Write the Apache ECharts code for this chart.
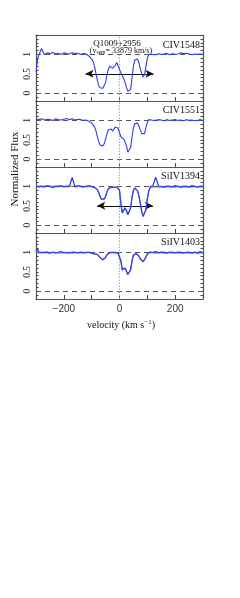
<!DOCTYPE html>
<html><head><meta charset="utf-8">
<script src="https://cdn.jsdelivr.net/npm/echarts@6/dist/echarts.min.js"></script>
<style>html,body{margin:0;padding:0;background:#fff;}#c{width:240px;height:598px;}</style>
</head><body><div id="c"></div>
<script>
// velocity grid (km/s)
const V = [-300,-295,-290,-280,-270,-260,-250,-240,-230,-220,-210,-200,-190,-180,-170,-160,-150,-140,-130,-120,
-115,-110,-105,-100,-95,-90,-85,-80,-75,-70,-65,-60,-55,-50,-45,-40,-35,-30,-25,-20,-15,-10,-5,0,
5,10,15,20,25,30,35,40,45,50,55,60,65,70,75,80,85,90,95,100,105,110,115,120,
130,140,150,160,170,180,190,200,210,220,230,240,250,260,270,280,290,300];

const PANELS = ['CIV1548','CIV1551','SiIV1394','SiIV1403'];

const CIV1548_B = [0.55,0.85,0.98,1.15,1.00,1.04,1.02,1.05,1.01,1.03,1.00,1.04,1.02,1.01,1.04,1.02,1.03,1.00,1.02,1.01,
0.99,0.96,0.93,0.88,0.82,0.70,0.52,0.35,0.20,0.14,0.12,0.13,0.16,0.28,0.48,0.62,0.70,0.73,0.64,0.62,0.72,0.79,0.76,0.62,
0.52,0.45,0.38,0.28,0.15,0.05,0.02,0.10,0.40,0.70,0.86,0.91,0.88,0.78,0.62,0.50,0.42,0.48,0.70,0.90,1.00,1.02,1.00,1.01,
0.99,1.02,1.00,1.01,1.03,0.99,1.02,1.00,1.01,1.04,1.02,1.03,1.01,0.99,1.01,1.00,1.01,1.00];

const CIV1551_B = [1.03,1.05,1.02,1.04,1.01,1.03,1.02,1.00,1.04,1.02,1.01,1.03,1.05,1.02,1.04,1.01,1.03,1.02,1.00,1.01,
1.00,0.98,0.96,0.93,0.90,0.84,0.74,0.60,0.46,0.37,0.33,0.34,0.40,0.52,0.66,0.76,0.80,0.78,0.72,0.76,0.83,0.85,0.80,0.68,
0.58,0.55,0.52,0.48,0.35,0.18,0.15,0.30,0.58,0.80,0.92,0.96,0.93,0.85,0.75,0.66,0.62,0.66,0.82,0.95,1.02,1.03,1.01,1.02,
1.00,1.02,1.01,0.99,1.02,1.00,1.01,1.02,1.00,1.01,0.99,1.02,1.00,1.01,0.99,1.00,1.02,1.00];

const SIIV1394_B = [1.00,1.02,0.99,1.01,0.98,1.02,1.00,0.97,1.01,1.00,1.02,0.99,1.01,1.00,1.23,0.99,1.02,1.00,0.98,1.01,
1.00,1.02,0.99,1.00,0.99,0.97,0.95,0.92,0.85,0.75,0.67,0.65,0.67,0.74,0.86,0.94,0.97,0.98,0.96,0.98,0.97,0.98,0.96,0.90,
0.55,0.32,0.30,0.45,0.38,0.27,0.27,0.45,0.72,0.90,0.96,0.95,0.88,0.75,0.55,0.35,0.23,0.24,0.40,0.68,0.88,0.98,1.00,1.02,
1.24,1.01,1.00,0.98,1.01,1.00,0.99,1.02,1.00,0.98,1.01,1.00,0.99,1.02,1.00,0.98,1.01,1.00];
const SIIV1394_G = [1.01,0.99,1.02,1.00,1.02,0.99,1.01,1.00,0.98,1.02,0.99,1.01,0.99,1.02,1.00,1.01,0.99,1.02,1.00,0.99,
1.01,0.99,1.01,0.99,1.00,0.98,0.96,0.93,0.86,0.76,0.68,0.66,0.68,0.75,0.87,0.95,0.98,0.97,0.98,0.97,0.99,0.97,0.97,0.91,
0.58,0.34,0.32,0.44,0.40,0.29,0.28,0.46,0.73,0.91,0.97,0.96,0.89,0.76,0.56,0.36,0.24,0.25,0.41,0.69,0.89,0.97,1.01,0.99,
1.01,1.00,0.98,1.01,0.99,1.01,1.00,0.98,1.01,1.00,0.99,1.01,1.00,0.99,1.01,1.00,0.99,1.01];
const SIIV1394_R = [0.99,1.01,1.00,0.98,1.00,1.01,0.99,1.01,1.00,0.98,1.00,1.01,0.98,0.99,1.01,0.98,1.00,0.99,1.01,0.98,
0.99,1.00,0.98,0.99,0.98,0.97,0.95,0.91,0.84,0.74,0.66,0.64,0.66,0.73,0.85,0.93,0.96,0.97,0.97,0.96,0.97,0.98,0.95,0.89,
0.56,0.31,0.29,0.43,0.37,0.26,0.26,0.44,0.71,0.89,0.95,0.94,0.87,0.74,0.54,0.34,0.22,0.23,0.39,0.67,0.87,0.96,0.98,0.97,
0.98,0.96,0.99,0.97,0.98,0.96,0.98,0.97,0.99,0.96,0.98,0.97,0.98,0.96,0.99,0.97,0.98,0.97];

const SIIV1403_B = [1.02,1.10,1.01,0.99,1.01,1.00,0.98,1.01,0.99,1.00,1.02,0.99,1.00,0.98,1.01,1.00,0.99,1.01,0.99,1.00,
0.99,1.01,0.99,0.98,0.97,0.96,0.95,0.95,0.92,0.87,0.83,0.81,0.82,0.87,0.94,0.98,1.00,0.99,1.00,0.99,1.00,0.99,0.98,0.95,
0.78,0.55,0.52,0.60,0.55,0.43,0.42,0.55,0.78,0.93,0.98,0.97,0.95,0.90,0.83,0.78,0.76,0.78,0.88,0.96,1.00,1.01,0.99,1.00,
1.02,0.99,1.01,1.00,0.98,1.01,1.00,0.99,1.01,1.00,0.98,1.01,1.00,0.99,1.01,0.98,1.02,0.99];
const SIIV1403_G = [1.00,1.02,0.99,1.01,0.99,1.02,1.00,0.99,1.01,0.98,1.00,1.01,0.99,1.01,0.99,1.01,1.00,0.98,1.01,0.99,
1.00,0.99,1.00,0.99,0.98,0.97,0.96,0.95,0.93,0.88,0.84,0.82,0.83,0.88,0.95,0.99,0.99,1.00,0.99,1.00,0.99,1.00,0.99,0.96,
0.80,0.57,0.54,0.61,0.57,0.45,0.44,0.57,0.80,0.94,0.99,0.98,0.96,0.91,0.84,0.79,0.77,0.79,0.89,0.97,0.99,1.00,1.01,0.99,
1.00,1.01,0.99,1.01,1.00,0.99,1.01,1.00,0.99,1.01,1.00,0.99,1.01,1.00,0.99,1.01,1.00,1.00];
const SIIV1403_R = [0.99,1.00,0.98,1.00,0.98,0.99,0.97,1.00,0.98,0.99,0.97,1.00,0.98,0.99,0.97,0.99,0.98,1.00,0.98,0.99,
0.98,1.00,0.98,0.97,0.97,0.95,0.94,0.94,0.91,0.86,0.82,0.80,0.81,0.86,0.93,0.97,0.98,0.98,0.99,0.98,0.98,0.98,0.97,0.94,
0.77,0.54,0.51,0.59,0.54,0.42,0.41,0.54,0.77,0.92,0.97,0.96,0.94,0.89,0.82,0.77,0.75,0.77,0.87,0.95,0.98,0.99,0.98,0.99,
0.97,0.99,0.98,0.97,0.99,0.98,0.97,0.99,0.98,0.97,0.99,0.98,0.97,0.98,0.99,0.97,0.98,0.98];

// spectra per panel: [values, colour, width, opacity]
const SPECTRA = [
  [[CIV1548_B,'#2e3ee6',1.1,1]],
  [[CIV1551_B,'#2e3ee6',1.1,1]],
  [[SIIV1394_R,'#e53030',0.7,0.75],[SIIV1394_G,'#25a84a',0.7,0.75],[SIIV1394_B,'#3040ee',1.3,1]],
  [[SIIV1403_R,'#e53030',0.7,0.75],[SIIV1403_G,'#25a84a',0.7,0.75],[SIIV1403_B,'#3040ee',1.3,1]]
];
const REF_LEVELS = [0, 1];
// velocity-range arrows: [panel, vstart, vend, flux]
const ARROWS = [[0,-122,122,0.5],[2,-80,120,0.5]];
const X_LABELS = [-200, 0, 200];
const Y_LABELS = [0, 0.5, 1];

const chart = echarts.init(document.getElementById('c'), null, {renderer:'canvas'});
const L=36, W=167, T0=35, H=66;
const grids=[], xAxes=[], yAxes=[], series=[];
const serif='Liberation Serif';
for(let p=0;p<4;p++){
  grids.push({left:L, top:T0+H*p, width:W, height:H});
  const last = p===3;
  xAxes.push({gridIndex:p, type:'value', min:-300, max:300, interval:100, position:'bottom',
    axisLine:{show:true, onZero:false, lineStyle:{color:'#555', width:1.2}},
    axisTick:{show:true, inside:true, length:4, lineStyle:{color:'#444'}},
    splitLine:{show:false},
    axisLabel:{show:last, margin:5, fontFamily:'Liberation Sans', fontSize:10, color:'#333',
      formatter:v=>X_LABELS.indexOf(v)>=0 ? (v<0?'\u2212'+Math.abs(v):String(v)) : ''}});
  xAxes.push({gridIndex:p, type:'value', min:-300, max:300, position:'top',
    axisLine:{show:true, onZero:false, lineStyle:{color:'#555', width:1.2}},
    axisTick:{show:false}, axisLabel:{show:false}, splitLine:{show:false}});
  const yl = {type:'value', gridIndex:p, min:-0.2, max:1.5, interval:0.1,
    axisLine:{show:true, onZero:false, lineStyle:{color:'#555', width:1.2}},
    axisTick:{show:true, inside:true, length:2.5, lineStyle:{color:'#444'}},
    splitLine:{show:false}};
  yAxes.push(Object.assign({}, yl, {position:'left',
    axisLabel:{show:true, rotate:90, margin:4, fontFamily:serif, fontSize:9.5, color:'#222',
      formatter:v=>{for(const t of Y_LABELS){ if(Math.abs(v-t)<1e-6) return String(t);} return '';}}}));
  yAxes.push(Object.assign({}, yl, {position:'right', axisLabel:{show:false}}));
  const sp = SPECTRA[p];
  sp.forEach((s,k)=>{
    const ser = {type:'line', xAxisIndex:2*p, yAxisIndex:2*p, symbol:'none', silent:true,
      data:V.map((v,i)=>[v,s[0][i]]), lineStyle:{color:s[1], width:s[2], opacity:s[3]}, z:3+k, animation:false};
    if(k===sp.length-1){
      const md=[];
      REF_LEVELS.forEach(y=>md.push({yAxis:y, lineStyle:{color:'#555', type:[5,4], width:1}}));
      md.push({xAxis:0, lineStyle:{color:'#aaa', type:[1.5,1.5], width:1.2}});
      ARROWS.filter(a=>a[0]===p).forEach(a=>md.push([
        {coord:[a[1],a[3]], symbol:'arrow', lineStyle:{color:'#111', width:1.1, type:'solid'}},
        {coord:[a[2],a[3]], symbol:'arrow'}]));
      ser.markLine = {silent:true, symbol:['none','none'], symbolSize:[6,8], label:{show:false},
        animation:false, z:1, data:md};
    }
    series.push(ser);
  });
}
const labelY=[45,110.5,176.5,242];
const graphic = PANELS.map((t,p)=>({type:'text', x:200, y:labelY[p],
  style:{text:t, font:'10px "Liberation Serif"', fill:'#111', align:'right', verticalAlign:'middle'}}));
graphic.push({type:'text', x:117, y:44, style:{text:'Q1009+2956', font:'9px "Liberation Serif"', fill:'#111', align:'center', verticalAlign:'middle'}});
graphic.push({type:'text', x:121, y:51, style:{text:'(v{s|sem}= 33879 km/s)', font:'8px "Liberation Serif"', fill:'#111', align:'center', verticalAlign:'middle',
  rich:{s:{fontSize:5.5, fontFamily:serif, verticalAlign:'bottom', padding:[3,0,0,0]}}}});
graphic.push({type:'text', x:121, y:325, style:{text:'velocity (km s{u|\u22121})', font:'10px "Liberation Serif"', fill:'#111', align:'center', verticalAlign:'middle',
  rich:{u:{fontSize:7, fontFamily:serif, verticalAlign:'top', padding:[0,0,5,0]}}}});
graphic.push({type:'text', x:15, y:169, rotation:Math.PI/2, style:{text:'Normalized Flux', font:'11px "Liberation Serif"', fill:'#111', align:'center', verticalAlign:'middle'}});

chart.setOption({animation:false, backgroundColor:'#fff', grid:grids, xAxis:xAxes, yAxis:yAxes, series:series, graphic:graphic});
</script></body></html>
